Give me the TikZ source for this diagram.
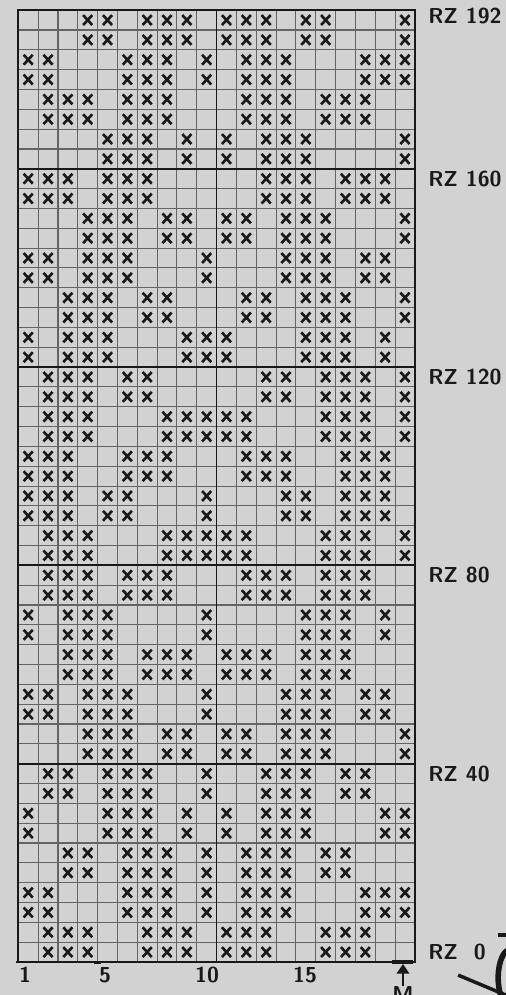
\documentclass[tikz,border=0pt]{standalone}
\usepackage{fontspec}
\usetikzlibrary{shapes.misc,arrows.meta}

\definecolor{paper}{RGB}{210,210,210}
\definecolor{gridline}{RGB}{100,100,100}
\definecolor{ink}{RGB}{25,25,25}

\begin{document}
\begin{tikzpicture}[
        cell/.style={
            draw=gridline,
            line width=0.8pt
        },
        heavy/.style={
            draw=ink,
            line width=1.3pt
        },
        stitch/.style={
            cross out,
            draw=ink,
            line width=1.9pt,
            minimum width=0.23cm,
            minimum height=0.25cm,
            inner sep=0pt,
            outer sep=0pt
        },
        rowlabel/.style={
            anchor=west,
            text=ink,
            inner sep=0pt,
            font=\fontsize{15.5}{18}\selectfont\sffamily\bfseries
        },
        collabel/.style={
            text=ink,
            inner sep=0pt,
            font=\fontsize{15.5}{18}\selectfont\sffamily\bfseries
        },
        marker/.style={
            -{Triangle[width=9pt,length=7pt]},
            draw=ink,
            line width=1.6pt
        }
    ]

    \fill[paper] (-0.461,-0.832) rectangle (12.297,24.256);
    \useasboundingbox (-0.461,-0.832) rectangle (12.297,24.256);

    % chart: 20 stitches x 48 rows, 0.5cm a cell
    \draw[cell] (0,0) grid[step=0.5] (10,24);
    \foreach \y in {5,10,15,20}
        \draw[heavy] (0,\y) -- (10,\y);
    \draw[heavy] (5,0) -- (5,24);
    \draw[heavy] (0,0) rectangle (10,24);

    % every pattern row is knitted twice, listed from the top
    \foreach \cols [count=\p] in {
            {4,5,7,8,9,11,12,13,15,16,20},
            {1,2,6,7,8,10,12,13,14,18,19,20},
            {2,3,4,6,7,8,12,13,14,16,17,18},
            {5,6,7,9,11,13,14,15,20},
            {1,2,3,5,6,7,13,14,15,17,18,19},
            {4,5,6,8,9,11,12,14,15,16,20},
            {1,2,4,5,6,10,14,15,16,18,19},
            {3,4,5,7,8,12,13,15,16,17,20},
            {1,3,4,5,9,10,11,15,16,17,19},
            {2,3,4,6,7,13,14,16,17,18,20},
            {2,3,4,8,9,10,11,12,16,17,18,20},
            {1,2,3,6,7,8,12,13,14,17,18,19},
            {1,2,3,5,6,10,14,15,17,18,19},
            {2,3,4,8,9,10,11,12,16,17,18,20},
            {2,3,4,6,7,8,12,13,14,16,17,18},
            {1,3,4,5,10,15,16,17,19},
            {3,4,5,7,8,9,11,12,13,15,16,17},
            {1,2,4,5,6,10,14,15,16,18,19},
            {4,5,6,8,9,11,12,14,15,16,20},
            {2,3,5,6,7,10,13,14,15,17,18},
            {1,5,6,7,9,11,13,14,15,19,20},
            {3,4,6,7,8,10,12,13,14,16,17},
            {1,2,6,7,8,10,12,13,14,18,19,20},
            {2,3,4,7,8,9,11,12,13,16,17,18}}{
        \foreach \c in \cols {
            \node[stitch] (s-\p-\c-a) at (\c*0.5-0.25,24.75-\p) {};
            \node[stitch] (s-\p-\c-b) at (\c*0.5-0.25,24.25-\p) {};
        }
    }

    \node[rowlabel] (rz192) at (10.33,23.85) {RZ 192};
    \node[rowlabel] (rz160) at (10.33,19.75) {RZ 160};
    \node[rowlabel] (rz120) at (10.33,14.75) {RZ 120};
    \node[rowlabel] (rz80) at (10.33,9.75) {RZ 80};
    \node[rowlabel] (rz40) at (10.33,4.75) {RZ 40};
    \node[rowlabel] (rz0) at (10.33,0.25) {RZ\ \ 0};

    \node[collabel] (c1) at (0.17,-0.33) {1};
    \node[collabel] (c5) at (2.19,-0.33) {5};
    \node[collabel] (c10) at (4.76,-0.33) {10};
    \node[collabel] (c15) at (7.23,-0.33) {15};

    \draw[ink, line width=2pt] (-0.06,0) -- (0.37,0);
    \draw[ink, line width=1.5pt] (1.92,-0.03) -- (2.08,-0.03);

    % middle stitch
    \draw[ink, line width=3pt] (9.42,0) -- (9.95,0);
    \coordinate (mbar) at (9.70,-0.05);
    \node[collabel, anchor=north] (m) at (9.70,-0.60) {M};
    \draw[marker] (m.north) -- (mbar);

    % cut-off bits at the page edge
    \draw[ink, line width=2.5pt] (11.09,-0.33) -- (12.45,-0.90);
    \draw[ink, line width=2.2pt] (12.10,0.68) -- (12.40,0.68);
    \draw[ink, line width=4pt] (12.40,0.31) arc[start angle=90, end angle=270, x radius=0.30, y radius=0.71];

\end{tikzpicture}
\end{document}
